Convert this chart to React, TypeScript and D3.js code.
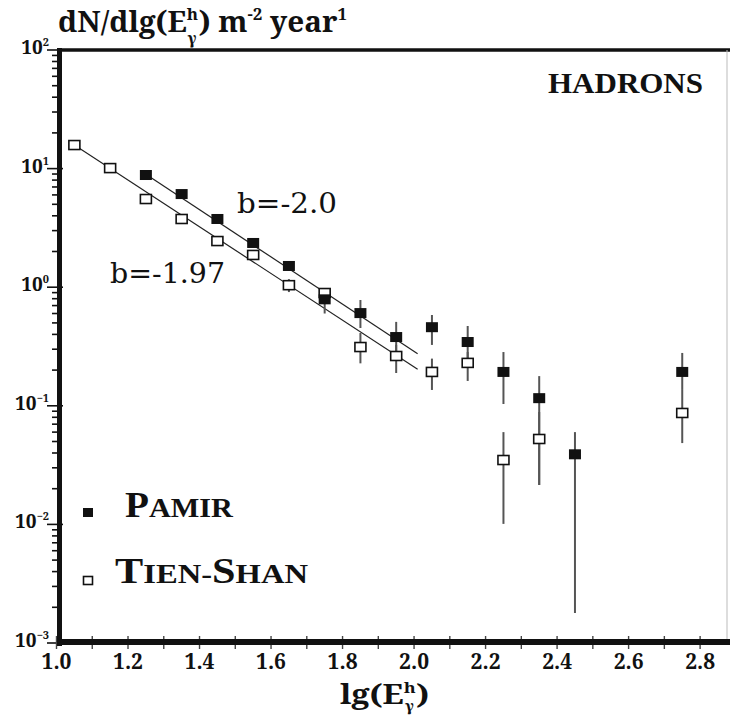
import React from "react";
import * as d3 from "d3";

// ---- data ----
const pamirLg = [1.25, 1.35, 1.45, 1.55, 1.65, 1.75, 1.85, 1.95, 2.05, 2.15, 2.25, 2.35, 2.45, 2.75];
const pamirVal = [8.83, 6.1, 3.76, 2.36, 1.51, 0.79, 0.605, 0.38, 0.46, 0.345, 0.193, 0.116, 0.039, 0.193];
const pamirLo = [8.83, 6.1, 3.76, 2.36, 1.38, 0.6, 0.453, 0.284, 0.326, 0.243, 0.1035, 0.0215, 0.00179, 0.136];
const pamirHi = [8.83, 6.1, 3.76, 2.36, 1.65, 0.97, 0.78, 0.51, 0.583, 0.471, 0.284, 0.178, 0.06, 0.279];

const tienLg = [1.05, 1.15, 1.25, 1.35, 1.45, 1.55, 1.65, 1.75, 1.85, 1.95, 2.05, 2.15, 2.25, 2.35, 2.75];
const tienVal = [15.8, 10.1, 5.54, 3.76, 2.45, 1.87, 1.04, 0.893, 0.313, 0.263, 0.193, 0.23, 0.0349, 0.0525, 0.087];
const tienLo = [15.8, 10.1, 5.54, 3.76, 2.45, 1.87, 0.91, 0.84, 0.228, 0.189, 0.136, 0.162, 0.0101, 0.0215, 0.0485];
const tienHi = [15.8, 10.1, 5.54, 3.76, 2.45, 1.87, 1.17, 0.95, 0.411, 0.326, 0.25, 0.284, 0.06, 0.0887, 0.136];

// fitted power-law lines: [lg start, value], [lg end, value]
const pamirFit = [[1.25, 8.95], [2.01, 0.275]];
const tienFit = [[1.05, 15.8], [2.01, 0.203]];

const xTickLabels = ["1.0", "1.2", "1.4", "1.6", "1.8", "2.0", "2.2", "2.4", "2.6", "2.8"];
const yExponents = [2, 1, 0, -1, -2, -3];

const W = 730;
const H = 718;

const NOTO = "Noto Serif, Liberation Serif, serif";
const LIB = "Liberation Serif, serif";

export default function App() {
  const x = d3.scaleLinear().domain([1.0, 2.878]).range([56.5, 728]);
  const y = d3.scaleLog().domain([1e-3, 1e2]).range([643, 50]);
  const line = d3
    .line<number[]>()
    .x((d) => x(d[0]))
    .y((d) => y(d[1]));

  const minorY: number[] = [];
  for (let e = -3; e < 2; e++) {
    for (let m = 2; m <= 9; m++) minorY.push(m * Math.pow(10, e));
  }
  const xMinor = d3.range(10, 29).map((v) => v / 10);

  const ink = "#111";
  const noto = { fontFamily: NOTO };
  const lib = { fontFamily: LIB };

  return (
    <svg width={W} height={H} style={{ display: "block", position: "absolute", left: 0, top: 0 }}>
      <rect x={0} y={0} width={W} height={H} fill="#fff" />

      {/* title */}
      <g transform="translate(58,32) scale(1.06,1)">
        <text x={0} y={0} fontSize={28} fontWeight="bold" fill={ink} style={noto}>
          dN/dlg(E
          <tspan dy={-12} fontSize={16}>h</tspan>
          <tspan dx={-10} dy={24} fontSize={16}>γ</tspan>
          <tspan dx={2} dy={-12}>) m</tspan>
          <tspan dy={-12} fontSize={16}>-2</tspan>
          <tspan dy={12}> year</tspan>
          <tspan dy={-12} fontSize={16}>1</tspan>
        </text>
      </g>

      {/* frame */}
      <line x1={57} x2={730} y1={50} y2={50} stroke={ink} strokeWidth={3.5} />
      <line x1={727} x2={727} y1={50} y2={643} stroke="#bbb" strokeWidth={1} />

      {/* y minor/major ticks */}
      {minorY.map((v, i) => (
        <line key={"ym" + i} x1={52} x2={59} y1={y(v)} y2={y(v)} stroke={ink} strokeWidth={1.6} />
      ))}
      {yExponents.map((e) => (
        <line key={"yM" + e} x1={47} x2={63} y1={y(Math.pow(10, e))} y2={y(Math.pow(10, e))} stroke={ink} strokeWidth={1.6} />
      ))}
      {yExponents.map((e) => (
        <text key={"yl" + e} x={49} y={y(Math.pow(10, e)) + 4} textAnchor="end" fontSize={19} fontWeight="bold" fill={ink} style={noto}>
          10
          <tspan dy={-8} fontSize={11}>{e < 0 ? "\u2212" + -e : String(e)}</tspan>
        </text>
      ))}

      {/* x ticks */}
      {xMinor.map((v, i) => (
        <line key={"xm" + i} x1={x(v)} x2={x(v)} y1={636} y2={649} stroke="#444" strokeWidth={1.4} />
      ))}
      {xTickLabels.map((t) => (
        <text key={"xl" + t} x={x(+t)} y={669} textAnchor="middle" fontSize={21} fontWeight="bold" fill={ink} style={noto}>
          {t}
        </text>
      ))}

      {/* axes lines */}
      <line x1={59.5} x2={59.5} y1={48} y2={646} stroke={ink} strokeWidth={5} />
      <line x1={57} x2={730} y1={642} y2={642} stroke={ink} strokeWidth={6} />

      {/* x title */}
      <g transform="translate(340,704) scale(1.2,1)">
        <text x={0} y={0} fontSize={27} fontWeight="bold" fill={ink} style={noto}>
          lg(E
          <tspan dy={-11} fontSize={15}>h</tspan>
          <tspan dx={-9} dy={18} fontSize={14}>γ</tspan>
          <tspan dx={2} dy={-7}>)</tspan>
        </text>
      </g>

      {/* fit lines */}
      <path d={line(pamirFit as number[][]) || ""} stroke="#222" strokeWidth={1.2} fill="none" />
      <path d={line(tienFit as number[][]) || ""} stroke="#222" strokeWidth={1.2} fill="none" />

      {/* error bars */}
      {pamirLg.map((lg, i) => (
        <line key={"pe" + i} x1={x(lg)} x2={x(lg)} y1={y(pamirHi[i])} y2={y(pamirLo[i])} stroke="#555" strokeWidth={2} />
      ))}
      {tienLg.map((lg, i) => (
        <line key={"te" + i} x1={x(lg)} x2={x(lg)} y1={y(tienHi[i])} y2={y(tienLo[i])} stroke="#555" strokeWidth={2} />
      ))}

      {/* markers */}
      {tienLg.map((lg, i) => (
        <rect key={"tm" + i} x={x(lg) - 5.5} y={y(tienVal[i]) - 4.5} width={11} height={9} fill="#fff" stroke={ink} strokeWidth={1.6} />
      ))}
      {pamirLg.map((lg, i) => (
        <rect key={"pm" + i} x={x(lg) - 6} y={y(pamirVal[i]) - 5} width={12} height={10} fill={ink} />
      ))}

      {/* annotations */}
      <text x={703} y={93} textAnchor="end" fontSize={29} fill={ink} fontWeight="bold" textLength={155} lengthAdjust="spacingAndGlyphs" style={lib}>
        HADRONS
      </text>
      <text x={237} y={213} fontSize={28} fill={ink} style={{ fontFamily: "DejaVu Serif, serif" }} textLength={100} lengthAdjust="spacingAndGlyphs">
        b=-2.0
      </text>
      <text x={110} y={283} fontSize={28} fill={ink} style={{ fontFamily: "DejaVu Serif, serif" }} textLength={115} lengthAdjust="spacingAndGlyphs">
        b=-1.97
      </text>

      {/* legend */}
      <rect x={83} y={508} width={10} height={9} fill={ink} />
      <text x={125} y={517} fontWeight="bold" fill={ink} textLength={108} lengthAdjust="spacingAndGlyphs" style={lib}>
        <tspan fontSize={35}>P</tspan>
        <tspan fontSize={27}>AMIR</tspan>
      </text>
      <rect x={83.5} y={576.5} width={9} height={8} fill="#fff" stroke={ink} strokeWidth={1.6} />
      <text x={115} y={583} fontWeight="bold" fill={ink} textLength={193} lengthAdjust="spacingAndGlyphs" style={lib}>
        <tspan fontSize={35}>T</tspan>
        <tspan fontSize={27}>IEN-</tspan>
        <tspan fontSize={35}>S</tspan>
        <tspan fontSize={27}>HAN</tspan>
      </text>
    </svg>
  );
}
